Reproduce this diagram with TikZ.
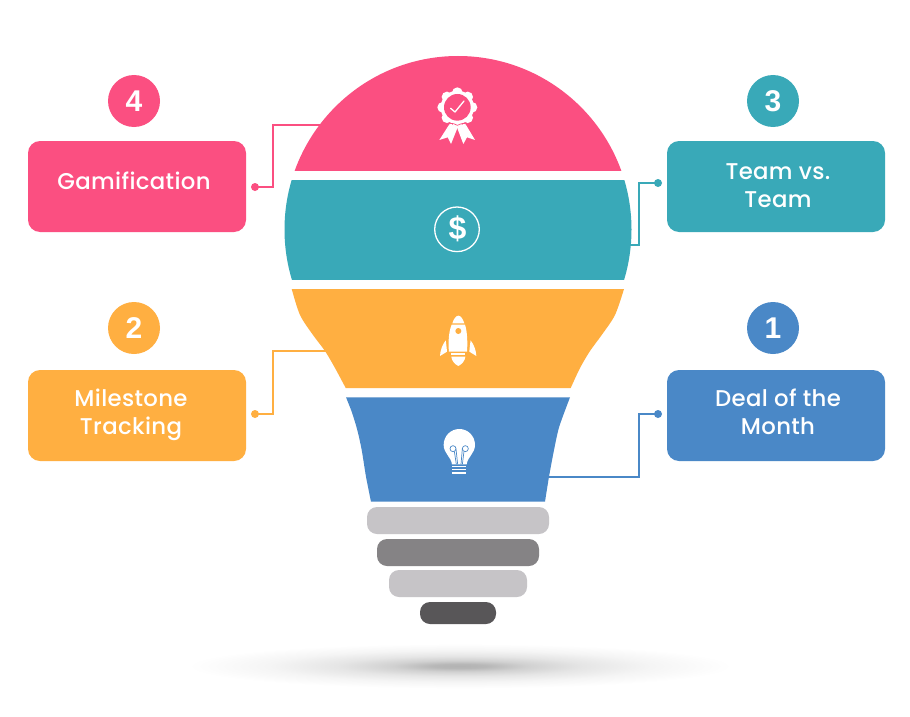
\documentclass[tikz,border=0pt]{standalone}
\usepackage{fontspec}
\setmainfont{Poppins}
\newfontfamily\labfont[LetterSpace=1.5]{Poppins Medium}
\newfontfamily\numfont{Liberation Sans}
\definecolor{cpink}{HTML}{FB4F81}
\definecolor{cteal}{HTML}{39A9B8}
\definecolor{corange}{HTML}{FFAF41}
\definecolor{cblue}{HTML}{4A88C7}
\definecolor{glight}{HTML}{C6C4C7}
\definecolor{gmid}{HTML}{858385}
\definecolor{gdark}{HTML}{585658}
\pgfdeclareradialshading{floorshadow}{\pgfpoint{0bp}{0bp}}{%
  color(0bp)=(black!30);color(2bp)=(black!28);color(5bp)=(black!18);color(9bp)=(black!10);color(14bp)=(black!4);color(20bp)=(white);color(50bp)=(white)}
\tikzset{
  infobox/.style={draw=none,rounded corners=12pt,minimum width=218pt,minimum height=91pt,inner sep=0pt},
  numdisc/.style={circle,minimum size=52pt,inner sep=0pt,text=white,font=\numfont\bfseries\fontsize{30}{30}\selectfont},
  lab/.style={text=white,align=center,inner sep=0pt,font=\labfont\fontsize{22.8}{28}\selectfont},
  tip/.style={circle,minimum size=8pt,inner sep=0pt},
  wire/.style={line width=1.3pt},
  basebar/.style={rounded corners=10pt,inner sep=0pt,minimum height=27pt},
  iconscope/.style={shift={(280,#1)},scale=0.33333}
}
\begin{document}
\begin{tikzpicture}[x=1pt,y=-1pt]
\useasboundingbox (0,0) rectangle (910,717);
\fill[white] (0,0) rectangle (910,717);
% floor shadow
\path[shading=floorshadow] (460,666) ellipse [x radius=340,y radius=28];
% cards
\node[infobox,fill=cpink] (boxG) at (137,186.5) {};
\node[infobox,fill=corange] (boxM) at (137,415.5) {};
\node[infobox,fill=cteal] (boxT) at (776,186.5) {};
\node[infobox,fill=cblue] (boxD) at (776,415.5) {};
\node[lab] (txtG) at (134,181) {Gamification};
\node[lab] (txtM) at (131,415) {Milestone\\Tracking};
\node[lab] (txtT) at (778,185.5) {Team vs.\\Team};
\node[lab] (txtD) at (778,412) {Deal of the\\Month};
% number discs
\node[numdisc,fill=cpink] (numG) at (134,101) {4};
\node[numdisc,fill=corange] (numM) at (134,328) {2};
\node[numdisc,fill=cteal] (numT) at (773,101) {3};
\node[numdisc,fill=cblue] (numD) at (773,328) {1};
% connector tips and ends
\node[tip,fill=cpink] (tipG) at (255,187) {};
\node[tip,fill=corange] (tipM) at (255,414) {};
\node[tip,fill=cteal] (tipT) at (658,183) {};
\node[tip,fill=cblue] (tipD) at (658,414) {};
\coordinate (kneeG) at (273,125); \coordinate (endG) at (325,125);
\coordinate (kneeM) at (273,351); \coordinate (endM) at (330,351);
\coordinate (kneeT) at (639,245); \coordinate (endT) at (625,245);
\coordinate (kneeD) at (639,477); \coordinate (endD) at (545,477);
\draw[wire,cpink] (tipG.center) -| (kneeG) -- (endG);
\draw[wire,corange] (tipM.center) -| (kneeM) -- (endM);
\draw[wire,cteal] (tipT.center) -| (kneeT) -- (endT);
\draw[wire,cblue] (tipD.center) -| (kneeD) -- (endD);
% glass segments
\begin{scope}
  \clip (270,50) rectangle (650,170);
  \fill[cpink] (458,229.5) circle [radius=173.5];
\end{scope}
\begin{scope}
  \clip (270,180) rectangle (650,279);
  \fill[cteal] (458,229.5) circle [radius=173.5];
\end{scope}
\fill[corange] (291.7,289) -- plot[smooth] coordinates {(291.7,289) (300,315) (313,335) (325,351) (335,368) (345.7,388)}
  -- plot[smooth] coordinates {(570.7,388) (580,368) (590,351) (601.7,335) (615,315) (624,289)} -- cycle;
\fill[cblue] (346,397.3) -- plot[smooth] coordinates {(346,397.3) (351.7,411.7) (357.3,430) (361.7,450) (366,476.7) (371,501.7)}
  -- plot[smooth] coordinates {(545,501.7) (549,476.7) (554,450) (558.3,430) (562.7,416.7) (570,397.3)} -- cycle;
% screw base
\node[basebar,fill=glight,minimum width=182pt] (bar1) at (458,520.5) {};
\node[basebar,fill=gmid,minimum width=162pt] (bar2) at (458,552.5) {};
\node[basebar,fill=glight,minimum width=138pt] (bar3) at (458,583.5) {};
\node[basebar,fill=gdark,minimum width=76pt,minimum height=22pt] (bar4) at (458,613) {};
% rosette icon
\begin{scope}[iconscope=50]
  \foreach \a in {0,45,...,315} \fill[white] (532,172)+(\a:44) circle [radius=16];
  \fill[white] (532,172) circle [radius=50];
  \fill[cpink] (532,172) circle [radius=40];
  \draw[white,line width=1.3pt,line cap=round,line join=round] (512,175) -- (525,186) -- (552,153);
  \fill[white] (510,220) -- (478,270) -- (503,262) -- (513,282) -- (533,232) -- cycle;
  \fill[white] (555,220) -- (585,270) -- (561,262) -- (550,282) -- (531,232) -- cycle;
  \draw[cpink,line width=0.7pt] (505,222) .. controls (518,218) and (525,222) .. (532,226) .. controls (540,222) and (548,218) .. (560,222);
\end{scope}
% dollar icon
\draw[white,line width=1.3pt] (457,229.3) circle [radius=22.3];
\node[text=white,inner sep=0pt,font=\numfont\bfseries\fontsize{32}{32}\selectfont] (dollar) at (457.5,229) {\$};
% rocket icon
\begin{scope}[iconscope=280]
  \fill[white] (517,130) .. controls (521,118) and (527,107) .. (535,107) .. controls (543,107) and (549,118) .. (553,130) -- cycle;
  \fill[white] (515,134) -- (555,134) .. controls (562,155) and (563,190) .. (561,215) -- (507,215) .. controls (504,190) and (506,155) .. (515,134) -- cycle;
  \fill[corange] (535,153) circle [radius=9];
  \fill[white] (514,219) -- (556,219) -- (556,225) -- (514,225) -- cycle;
  \fill[white] (514,230) -- (556,230) .. controls (555,243) and (545,253) .. (535,258) .. controls (525,253) and (515,243) .. (514,230) -- cycle;
  \fill[white] (497,181) .. controls (487,195) and (481,210) .. (480,228) -- (501,215) .. controls (500,205) and (499,192) .. (497,181) -- cycle;
  \fill[white] (572,181) .. controls (582,195) and (588,210) .. (589,228) -- (568,215) .. controls (569,205) and (570,192) .. (572,181) -- cycle;
\end{scope}
% bulb icon
\begin{scope}[iconscope=280]
  \fill[white] (491,495) .. controls (491,468) and (512,447) .. (538,447) .. controls (564,447) and (585,468) .. (585,495)
    .. controls (585,520) and (563,530) .. (560,553) -- (516,553) .. controls (513,530) and (491,520) .. (491,495) -- cycle;
  \fill[white] (517,557) rectangle (559,562);
  \fill[white] (517,566) rectangle (559,571);
  \fill[white] (517,575) rectangle (559,582);
  \draw[cblue,line width=0.7pt] (519,506) circle [radius=9];
  \draw[cblue,line width=0.7pt] (556,506) circle [radius=9];
  \draw[cblue,line width=0.7pt] (528,507) -- (533,553);
  \draw[cblue,line width=0.7pt] (523,514) -- (529,553);
  \draw[cblue,line width=0.7pt] (547,507) -- (543,553);
  \draw[cblue,line width=0.7pt] (552,514) -- (547,553);
\end{scope}
\end{tikzpicture}
\end{document}
